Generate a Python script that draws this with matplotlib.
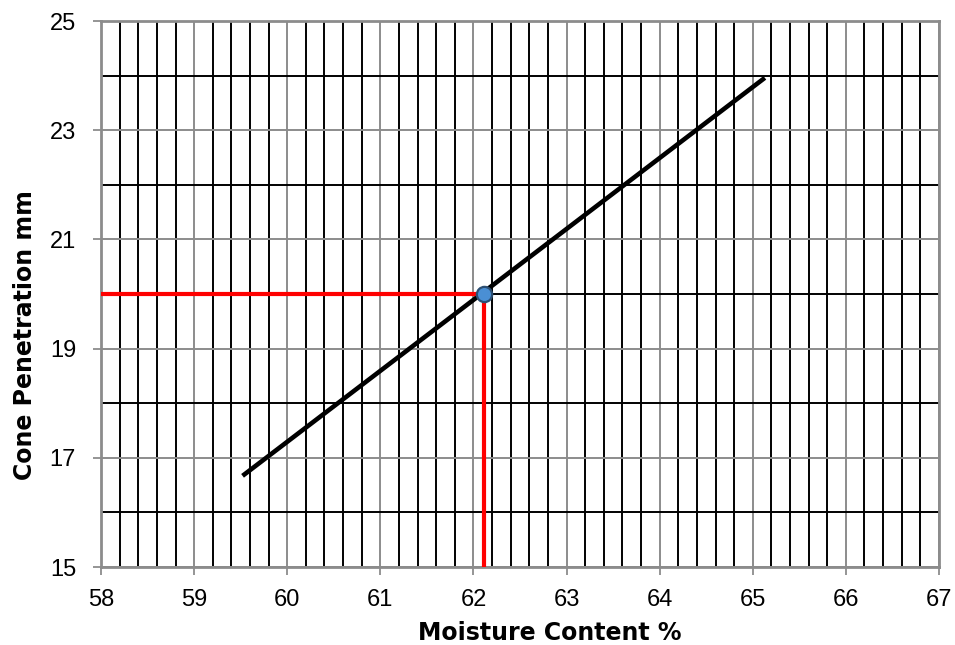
import matplotlib
matplotlib.use("Agg")
import matplotlib.pyplot as plt
from matplotlib.ticker import MultipleLocator, FixedLocator

# trend line end points and the liquid limit point
line_x = [59.52, 65.13]
line_y = [16.67, 23.96]
ll_x = 62.11
ll_y = 20.0

x_ticks = [58, 59, 60, 61, 62, 63, 64, 65, 66, 67]
y_ticks = [15, 17, 19, 21, 23, 25]

fig = plt.figure(figsize=(9.55, 6.45), dpi=100)
ax = fig.add_axes([0.1058, 0.1209, 0.8774, 0.8465])

ax.set_xlim(58, 67)
ax.set_ylim(15, 25)
ax.xaxis.set_major_locator(FixedLocator(x_ticks))
ax.xaxis.set_minor_locator(MultipleLocator(0.2))
ax.yaxis.set_major_locator(FixedLocator(y_ticks))
ax.yaxis.set_minor_locator(MultipleLocator(1))

ax.grid(which='minor', color='black', linewidth=1.4)
ax.grid(which='major', color='#8c8c8c', linewidth=1.4)
ax.set_axisbelow(True)

for s in ax.spines.values():
    s.set_color('#8c8c8c')
    s.set_linewidth(2)

ax.tick_params(axis='x', which='major', direction='out', length=6, width=1.3, color='#8c8c8c',
               labelsize=17, pad=10)
ax.tick_params(axis='y', which='major', direction='out', length=6, width=1.3, color='#8c8c8c',
               labelsize=17, pad=12)
ax.tick_params(which='minor', length=0)

ax.plot(line_x, line_y, color='black', linewidth=3.3, solid_capstyle='butt', zorder=3)
ax.plot([58, ll_x], [ll_y, ll_y], color='red', linewidth=3, zorder=3)
ax.plot([ll_x, ll_x], [15, ll_y], color='red', linewidth=3, zorder=3)
ax.plot([ll_x], [ll_y], 'o', markersize=11, markerfacecolor='#4a8fd4',
        markeredgecolor='#2c4f73', markeredgewidth=1.6, zorder=4)

for lbl in ax.get_xticklabels() + ax.get_yticklabels():
    lbl.set_fontfamily('Liberation Sans')

ax.set_xlabel('Moisture Content %', fontsize=17, fontweight='bold')
ax.set_ylabel('Cone Penetration mm', fontsize=17, fontweight='bold')
ax.xaxis.set_label_coords(0.536, -0.098)
ax.yaxis.set_label_coords(-0.077, 0.425)

fig.savefig('out.png', dpi=100)
